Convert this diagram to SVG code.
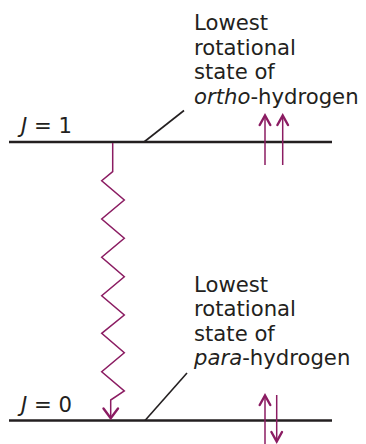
<svg xmlns="http://www.w3.org/2000/svg" width="366" height="444" viewBox="0 0 366 444">
<style>
.lbl{font-family:"DejaVu Sans","Liberation Sans",sans-serif;font-size:21.2px;fill:#231f20}
.lvl{stroke:#231f20;stroke-width:2.6;fill:none}
.lead{stroke:#231f20;stroke-width:1.6;fill:none}
.spin{stroke:#8b1c62;stroke-width:1.5;fill:none}
.head{stroke:#8b1c62;stroke-width:2.4;fill:none;stroke-linecap:round;stroke-linejoin:miter}
</style>
<rect width="366" height="444" fill="#ffffff"/>
<g id="level-J1">
<line class="lvl" x1="9" y1="142" x2="332" y2="142"/>
<text class="lbl" x="21" y="133"><tspan font-style="italic">J</tspan> = 1</text>
</g>
<g id="level-J0">
<line class="lvl" x1="9" y1="420.5" x2="332" y2="420.5"/>
<text class="lbl" x="21" y="411.5"><tspan font-style="italic">J</tspan> = 0</text>
</g>
<g id="label-ortho">
<text class="lbl" x="194" y="30">Lowest</text>
<text class="lbl" x="194" y="54.5">rotational</text>
<text class="lbl" x="194" y="79">state of</text>
<text class="lbl" x="194" y="103.5"><tspan font-style="italic">ortho</tspan>-hydrogen</text>
</g>
<g id="label-para">
<text class="lbl" x="194" y="291.5">Lowest</text>
<text class="lbl" x="194" y="316">rotational</text>
<text class="lbl" x="194" y="340.5">state of</text>
<text class="lbl" x="194" y="365"><tspan font-style="italic">para</tspan>-hydrogen</text>
</g>
<g id="spins-ortho">
<line class="spin" x1="265" y1="116" x2="265" y2="165"/>
<polyline class="head" points="259.7,125 265,115.5 270.3,125"/>
<line class="spin" x1="282.7" y1="116" x2="282.7" y2="165"/>
<polyline class="head" points="277.4,125 282.7,115.5 288,125"/>
</g>
<g id="spins-para">
<line class="spin" x1="265" y1="396" x2="265" y2="444"/>
<polyline class="head" points="259.7,405 265,395.5 270.3,405"/>
<line class="spin" x1="276.7" y1="395" x2="276.7" y2="441"/>
<polyline class="head" points="271.4,432 276.7,441.5 282,432"/>
</g>
<g id="connectors">
<line class="lead" x1="144" y1="142" x2="184" y2="110.5"/>
<line class="lead" x1="145" y1="420.5" x2="187" y2="373"/>
<polyline class="spin" points="112.7,143 112.7,171.7 101.7,180.7 124.3,200 101.7,219 124.3,238.3 101.7,257.3 124.3,276.7 101.7,295.7 124.3,315 101.7,333.3 124.3,352.7 101.7,371.7 124.3,391 110.7,400 110.7,417"/>
<polyline class="head" points="103.5,408.5 110.7,418.3 118,408.5"/>
</g>
</svg>
